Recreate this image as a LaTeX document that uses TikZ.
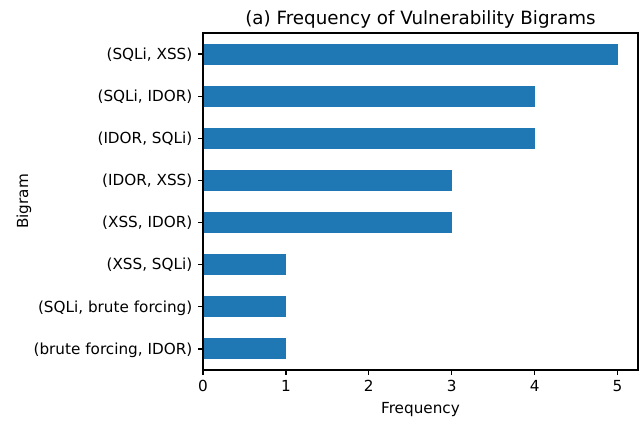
\documentclass[tikz,border=0pt]{standalone}
\usepackage{fontspec}
\usepackage{xcolor}
\setmainfont{DejaVu Sans}
\definecolor{barblue}{HTML}{1F77B4}

\begin{document}
\begin{tikzpicture}[x=0.72pt,y=-0.72pt,
  ticktext/.style={font=\fontsize{10.97}{13}\selectfont, inner sep=0pt},
  tickmark/.style={line width=0.88pt}]
\useasboundingbox (0,0) rectangle (642,420);
% bars
\foreach \v [count=\i from 0] in {5,4,4,3,3,1,1,1}
\fill [barblue] (203,{33+42.125*(\i+0.25)}) rectangle ({203+82.9*\v},{33+42.125*(\i+0.75)});
% y ticks
\foreach \lab [count=\i from 0] in {{(SQLi, XSS)},{(SQLi, IDOR)},{(IDOR, SQLi)},{(IDOR, XSS)},{(XSS, IDOR)},{(XSS, SQLi)},{(SQLi, brute forcing)},{(brute forcing, IDOR)}}
{
\draw [tickmark] (198.1,{33+42.125*(\i+0.5)}) -- (203,{33+42.125*(\i+0.5)});
\node [ticktext, anchor=mid east] (ylab\i) at (192.6,{34.5+42.125*(\i+0.5)}) {\lab};
}
% x ticks
\foreach \v in {0,...,5}
{
\draw [tickmark] ({203+82.9*\v},370) -- ({203+82.9*\v},374.9);
\node [ticktext, anchor=base] (xlab\v) at ({203+82.9*\v},391.5) {\v};
}
\draw [line width=0.88pt, line join=miter] (203,33) rectangle (638,370);
\node [font=\fontsize{13.16}{15}\selectfont, inner sep=0pt, anchor=base] (title) at (420.5,24.7) {(a) Frequency of Vulnerability Bigrams};
\node [ticktext, anchor=base] (xname) at (420.5,413.3) {Frequency};
\node [ticktext, anchor=base, rotate=90] (yname) at (28,201.5) {Bigram};
\end{tikzpicture}
\end{document}
